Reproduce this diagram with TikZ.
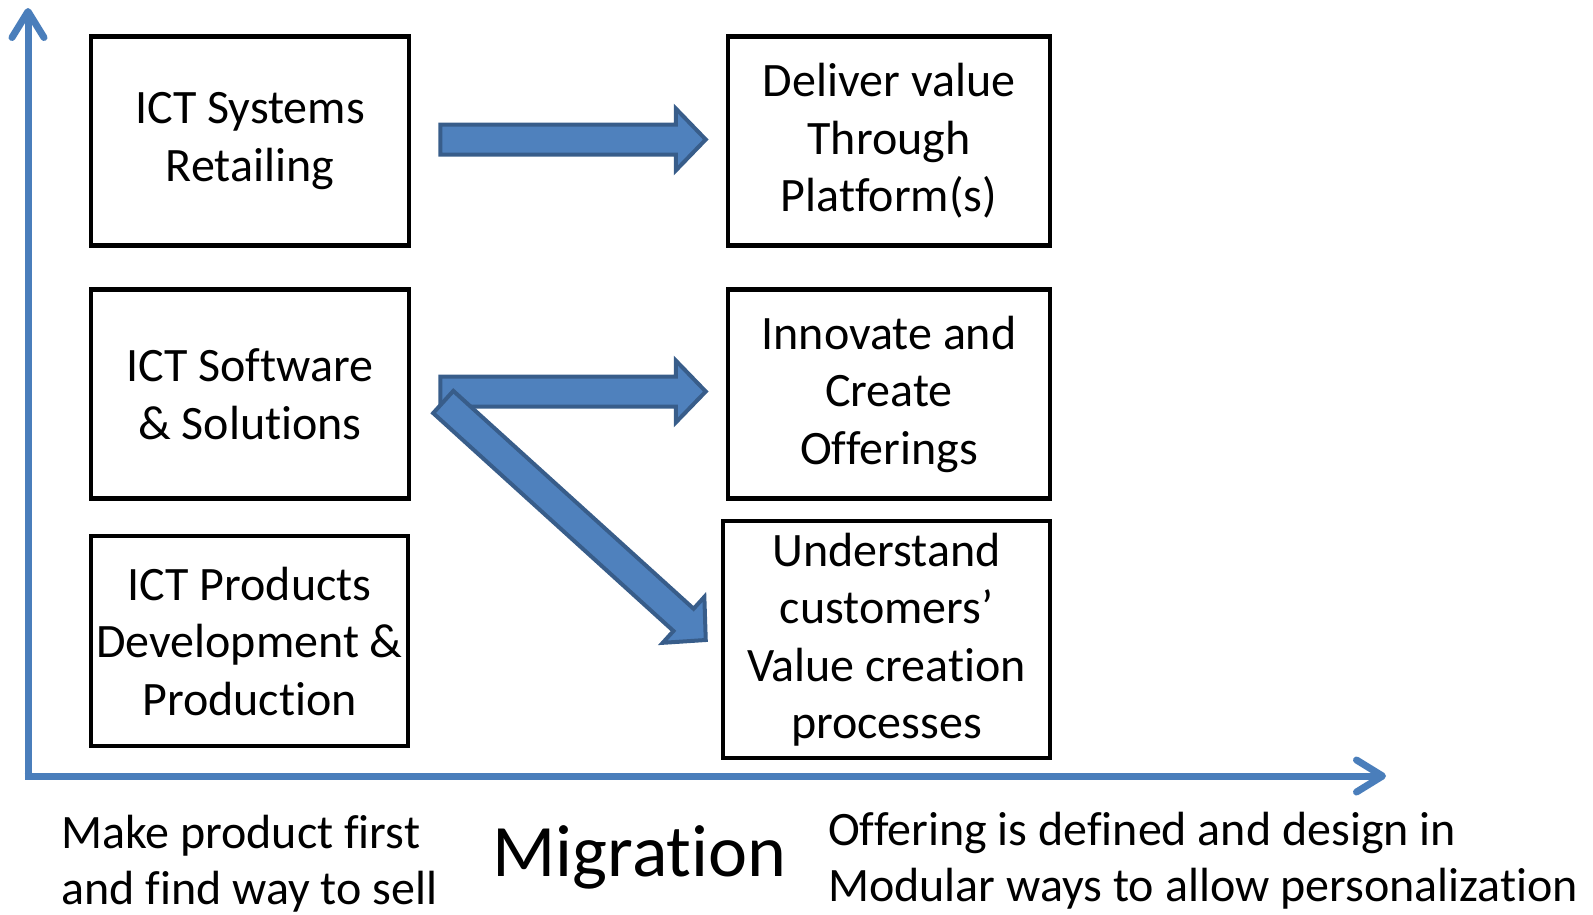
\documentclass[tikz,border=0pt]{standalone}
\usepackage{fontspec}
\setmainfont{Carlito}[Ligatures=CommonOff]
\usetikzlibrary{calc,arrows.meta,positioning}

\definecolor{axisblue}{HTML}{4A7EBB}
\definecolor{arrowfill}{HTML}{4F81BD}
\definecolor{arrowline}{HTML}{385D8A}

\tikzstyle{box}=[draw,line width=4.5pt,align=center,inner sep=0pt,font=\fontsize{48}{57.5}\selectfont]
\tikzstyle{axis}=[axisblue,line width=7pt,-{Straight Barb[round,length=26pt,width=32pt]}]
\tikzstyle{blockarrow}=[fill=arrowfill,draw=arrowline,line width=4pt,line join=miter]
\tikzstyle{caption}=[align=left,inner sep=0pt,anchor=west,font=\fontsize{48}{56}\selectfont]

% block arrow from #1 to #2 (shaft 30pt, head 62pt)
\newcommand{\blockarrow}[2]{%
  \coordinate (bh) at ($(#2)!30pt!(#1)$);
  \draw[blockarrow] ($(#1)!15pt!90:(#2)$) -- ($(bh)!15pt!90:(#2)$)
        -- ($(bh)!31pt!90:(#2)$) -- (#2) -- ($(bh)!31pt!-90:(#2)$)
        -- ($(bh)!15pt!-90:(#2)$) -- ($(#1)!15pt!-90:(#2)$) -- cycle;
}

\begin{document}
\begin{tikzpicture}[x=1pt,y=-1pt]
\useasboundingbox (0,0) rectangle (1593,914);

% axes
\coordinate (origin) at (28,776);
\coordinate (ytop) at (28,8);
\coordinate (xend) at (1386,776);
\draw[axis] (28,779.5) -- (ytop);
\draw[axis] (24.5,776) -- (xend);

% left column
\node[box,minimum width=318,minimum height=209] (ictsys) at (250,141) {ICT Systems\\Retailing};
\node[box,minimum width=318,minimum height=209] (ictsoft) at (250,394) {ICT Software\\\& Solutions};
\node[box,minimum width=317,minimum height=210] (ictprod) at (249.5,641) {ICT Products\\Development \&\\Production};

% right column
\node[box,minimum width=322,minimum height=209] (deliver) at (889,141) {Deliver value\\Through\\Platform(s)};
\node[box,minimum width=322,minimum height=209] (innovate) at (889,394) {Innovate and\\Create\\Offerings};
\node[box,minimum width=327,minimum height=237] (understand) at (886.5,639.5) {Understand\\customers’\\Value creation\\processes};

% migration arrows
\coordinate (s1) at ($(ictsys.east)+(29,-1.5)$);
\coordinate (e1) at ($(deliver.west)+(-20,-1.5)$);
\coordinate (s2) at ($(ictsoft.east)+(29,-2.5)$);
\coordinate (e2) at ($(innovate.west)+(-20,-2.5)$);
\coordinate (s3) at ($(ictsoft.east)+(32,8)$);
\coordinate (e3) at ($(understand.west)+(-15,0.5)$);
\blockarrow{s1}{e1}
\blockarrow{s2}{e2}
\blockarrow{s3}{e3}

% captions
\node[caption] (makefirst) at (61,864) {Make product first\\and find way to sell};
\node[anchor=base,inner sep=0pt,font=\fontsize{74}{80}\selectfont] (migration) at (639.5,876) {Migration};
\node[caption] (modular) at (828,861) {Offering is defined and design in\\Modular ways to allow personalization};
\end{tikzpicture}
\end{document}
